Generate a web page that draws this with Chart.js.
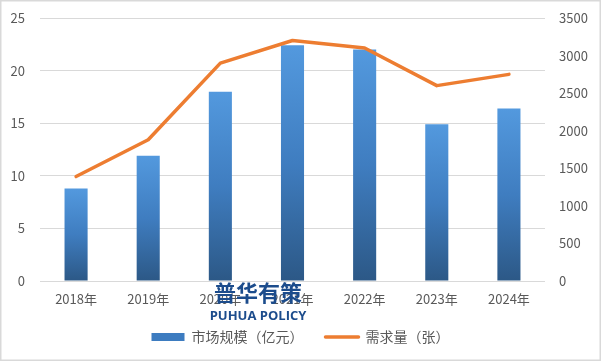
<!DOCTYPE html>
<html>
<head>
<meta charset="utf-8">
<script src="https://cdn.jsdelivr.net/npm/chart.js@4.4.1/dist/chart.umd.min.js"></script>
<style>
html,body{margin:0;padding:0;background:#fff;}
#wrap{width:601px;height:361px;position:relative;}
</style>
</head>
<body>
<div id="wrap"><canvas id="c" width="601" height="361"></canvas></div>
<script>
const categories = ['2018年','2019年','2020年','2021年','2022年','2023年','2024年'];
const marketSize = [8.8, 11.9, 18.0, 22.4, 22.0, 14.9, 16.4];
const demand = [1390, 1880, 2900, 3200, 3100, 2600, 2750];
const seriesNames = ['市场规模（亿元）', '需求量（张）'];
const leftTicks = [0, 5, 10, 15, 20, 25];
const rightTicks = [0, 500, 1000, 1500, 2000, 2500, 3000, 3500];

const FONT = '"Noto Sans CJK SC", "Noto Sans", sans-serif';
const TXT = '#595959';

function barGradient(ctx) {
  const chart = ctx.chart;
  if (!chart.chartArea || ctx.type !== 'data') return '#4282c8';
  const ys = chart.scales.y;
  const top = ys.getPixelForValue(ctx.raw);
  const bot = ys.getPixelForValue(0);
  const g = chart.ctx.createLinearGradient(0, top, 0, bot);
  g.addColorStop(0, '#5399DE');
  g.addColorStop(0.5, '#3F7DC0');
  g.addColorStop(1, '#2C5886');
  return g;
}

const extras = {
  id: 'extras',
  afterDraw(chart) {
    const c = chart.ctx;
    c.save();
    // watermark
    c.fillStyle = '#1C4C8C';
    c.textAlign = 'center';
    c.textBaseline = 'middle';
    c.font = 'bold 22px ' + FONT;
    c.fillText('普华有策', 258, 293);
    c.font = 'bold 13px "Open Sans", "Noto Sans", sans-serif';
    c.fillText('PUHUA POLICY', 258, 316);
    // frame
    c.strokeStyle = '#D9D9D9';
    c.lineWidth = 1.5;
    c.strokeRect(0.75, 0.75, 599.5, 359.5);
    c.restore();
  }
};

new Chart(document.getElementById('c'), {
  type: 'bar',
  data: {
    labels: categories,
    datasets: [
      {
        type: 'bar',
        label: seriesNames[0],
        data: marketSize,
        backgroundColor: barGradient,
        borderWidth: 0,
        yAxisID: 'y',
        categoryPercentage: 0.8,
        barPercentage: 0.4,
        order: 2
      },
      {
        type: 'line',
        label: seriesNames[1],
        data: demand,
        borderColor: '#ED7D31',
        backgroundColor: '#ED7D31',
        borderWidth: 3.5,
        borderCapStyle: 'round',
        borderJoinStyle: 'round',
        pointRadius: 0,
        tension: 0,
        yAxisID: 'y1',
        order: 1
      }
    ]
  },
  options: {
    responsive: false,
    animation: false,
    devicePixelRatio: 1,
    layout: { padding: { top: 18, left: 0, right: 0, bottom: 7 } },
    plugins: {
      tooltip: { enabled: false },
      legend: {
        position: 'bottom',
        labels: {
          font: { family: FONT, size: 14 },
          color: TXT,
          usePointStyle: true,
          pointStyleWidth: 33,
          boxHeight: 8,
          padding: 22,
          sort: (a, b) => a.datasetIndex - b.datasetIndex,
          generateLabels(chart) {
            const items = Chart.defaults.plugins.legend.labels.generateLabels(chart);
            items.forEach(it => {
              if (it.datasetIndex === 0) {
                it.pointStyle = 'rect';
                it.fillStyle = '#3D7CC0';
                it.strokeStyle = '#3D7CC0';
                it.lineWidth = 0;
              } else {
                it.pointStyle = 'line';
                it.strokeStyle = '#ED7D31';
                it.lineWidth = 3.5;
                it.lineCap = 'round';
              }
            });
            return items;
          }
        }
      }
    },
    scales: {
      x: {
        offset: true,
        grid: { display: false, drawTicks: false },
        border: { display: false },
        ticks: { font: { family: FONT, size: 13 }, color: TXT, padding: 10, maxRotation: 0 },
        afterFit(s) { s.height = 27; }
      },
      y: {
        position: 'left',
        min: 0, max: 25,
        afterBuildTicks(s) { s.ticks = leftTicks.map(v => ({ value: v })); },
        grid: { color: '#D9D9D9', lineWidth: 1, drawTicks: true, tickLength: 13, tickColor: 'rgba(0,0,0,0)' },
        border: { display: false },
        ticks: { font: { family: FONT, size: 13 }, color: TXT, padding: 2, callback: v => String(v) },
        afterFit(s) { s.width = 40; }
      },
      y1: {
        position: 'right',
        min: 0, max: 3500,
        afterBuildTicks(s) { s.ticks = rightTicks.map(v => ({ value: v })); },
        grid: { display: false, drawTicks: true, tickLength: 12 },
        border: { display: false },
        ticks: { font: { family: FONT, size: 13 }, color: TXT, padding: 2, callback: v => String(v) },
        afterFit(s) { s.width = 56; }
      }
    }
  },
  plugins: [extras]
});
</script>
</body>
</html>
